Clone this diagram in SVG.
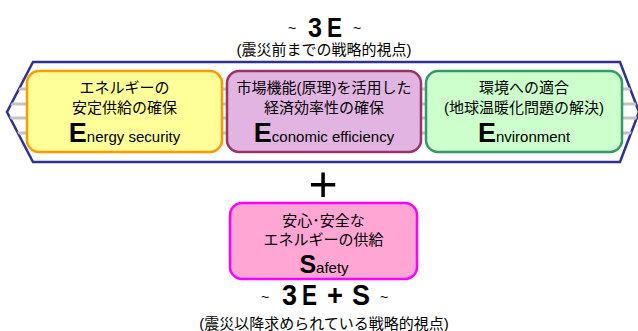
<svg xmlns="http://www.w3.org/2000/svg" width="638" height="331" viewBox="0 0 638 331">
<style>
.jp{font-family:"Liberation Sans","Noto Sans CJK JP",sans-serif;font-size:15px;fill:#000;text-anchor:middle}
.big{font-family:"Liberation Sans",sans-serif;fill:#000;text-anchor:middle}
.ttl{font-family:"Liberation Sans",sans-serif;fill:#000;font-weight:bold}
.tl{font-family:"Liberation Sans",sans-serif;fill:#000;font-size:14px}
.cap{font-weight:bold}
.box{stroke-width:2.5}
.stripe{stroke:#c4c4c4;stroke-width:3}
</style>
<defs>
<clipPath id="hexclip"><polygon points="33,62 620,62 639,112 620,162 33,162 7,112"/></clipPath>
</defs>
<rect width="638" height="331" fill="#fff"/>
<g id="title-top">
<text class="tl" x="288" y="33">~</text>
<text class="ttl" font-size="27" x="308" y="37" textLength="14" lengthAdjust="spacingAndGlyphs">3</text>
<text class="ttl" font-size="27" x="327" y="37" textLength="15" lengthAdjust="spacingAndGlyphs">E</text>
<text class="tl" x="353" y="33">~</text>
<text class="jp" x="324" y="55">(震災前までの戦略的視点)</text>
</g>
<g id="frame">
<polygon points="33,62 620,62 639,112 620,162 33,162 7,112" fill="#fff" stroke="#2e3192" stroke-width="2.5"/>
<g clip-path="url(#hexclip)">
<line class="stripe" x1="0" y1="89" x2="638" y2="89"/>
<line class="stripe" x1="0" y1="104" x2="638" y2="104"/>
<line class="stripe" x1="0" y1="118" x2="638" y2="118"/>
<line class="stripe" x1="0" y1="133" x2="638" y2="133"/>
</g>
</g>
<g id="energy-security">
<rect class="box" x="27" y="71" width="195" height="81" rx="12" fill="#ffff99" stroke="#ff9900"/>
<text class="jp" x="124.5" y="93">エネルギーの</text>
<text class="jp" x="124.5" y="113">安定供給の確保</text>
<text class="big" x="124.5" y="142"><tspan class="cap" font-size="27">E</tspan><tspan font-size="15">nergy security</tspan></text>
</g>
<g id="economic-efficiency">
<rect class="box" x="227" y="71" width="194" height="81" rx="12" fill="#e2b4e2" stroke="#993366"/>
<text class="jp" x="324" y="93">市場機能(原理)を活用した</text>
<text class="jp" x="324" y="113">経済効率性の確保</text>
<text class="big" x="324" y="142"><tspan class="cap" font-size="27">E</tspan><tspan font-size="15">conomic efficiency</tspan></text>
</g>
<g id="environment">
<rect class="box" x="426" y="71" width="196" height="81" rx="12" fill="#ccffcc" stroke="#339966"/>
<text class="jp" x="524" y="93">環境への適合</text>
<text class="jp" x="524" y="113">(地球温暖化問題の解決)</text>
<text class="big" x="524" y="142"><tspan class="cap" font-size="27">E</tspan><tspan font-size="15">nvironment</tspan></text>
</g>
<g id="plus">
<text class="big" x="323" y="201" font-size="50">+</text>
</g>
<g id="safety">
<rect class="box" x="230" y="203" width="187" height="76" rx="12" fill="#ffa6d5" stroke="#ff00ff"/>
<text class="jp" x="323.5" y="226">安心･安全な</text>
<text class="jp" x="323.5" y="245">エネルギーの供給</text>
<text class="big" x="324" y="273"><tspan class="cap" font-size="25">S</tspan><tspan font-size="15">afety</tspan></text>
</g>
<g id="title-bottom">
<text class="tl" x="261" y="302">~</text>
<text class="ttl" font-size="30" x="282" y="305" textLength="15" lengthAdjust="spacingAndGlyphs">3</text>
<text class="ttl" font-size="30" x="302" y="305" textLength="15" lengthAdjust="spacingAndGlyphs">E</text>
<text class="ttl" font-size="30" x="327" y="305" textLength="16" lengthAdjust="spacingAndGlyphs">+</text>
<text class="ttl" font-size="30" x="352" y="305" textLength="18" lengthAdjust="spacingAndGlyphs">S</text>
<text class="tl" x="380" y="302">~</text>
<text class="jp" x="324" y="329">(震災以降求められている戦略的視点)</text>
</g>
<g id="connectors"></g>
</svg>
